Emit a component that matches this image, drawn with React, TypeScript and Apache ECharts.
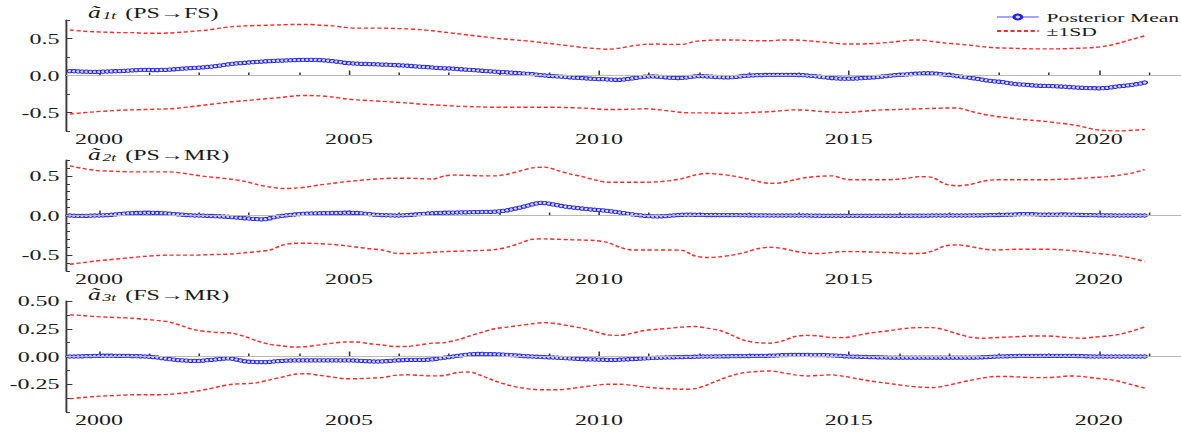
import React, { useEffect, useRef } from "react";
import * as echarts from "echarts";

// ---------- data ----------
// monthly posterior means, June 1999 .. December 2020
const MEAN_1 = [
  0.06, 0.058, 0.055, 0.053, 0.052, 0.05, 0.05,
  0.05, 0.052, 0.054, 0.056, 0.058, 0.06, 0.063, 0.066, 0.07, 0.073, 0.075, 0.075,
  0.075, 0.074, 0.074, 0.075, 0.077, 0.08, 0.084, 0.088, 0.092, 0.096, 0.1, 0.103,
  0.106, 0.11, 0.115, 0.12, 0.127, 0.134, 0.142, 0.15, 0.157, 0.163, 0.168, 0.172,
  0.176, 0.18, 0.184, 0.188, 0.192, 0.195, 0.198, 0.2, 0.202, 0.204, 0.206, 0.208,
  0.21, 0.211, 0.212, 0.212, 0.211, 0.209, 0.205, 0.2, 0.194, 0.188, 0.18, 0.172,
  0.166, 0.162, 0.16, 0.158, 0.156, 0.154, 0.152, 0.15, 0.148, 0.146, 0.143, 0.14,
  0.138, 0.135, 0.132, 0.128, 0.124, 0.12, 0.116, 0.112, 0.108, 0.104, 0.1, 0.097,
  0.095, 0.092, 0.088, 0.084, 0.08, 0.076, 0.072, 0.068, 0.064, 0.06, 0.056, 0.052,
  0.05, 0.046, 0.042, 0.038, 0.034, 0.03, 0.026, 0.022, 0.018, 0.012, 0.006, 0.0,
  -0.004, -0.008, -0.012, -0.016, -0.02, -0.024, -0.028, -0.032, -0.036, -0.04, -0.043, -0.046,
  -0.048, -0.05, -0.053, -0.056, -0.058, -0.058, -0.054, -0.047, -0.039, -0.031, -0.023, -0.016,
  -0.012, -0.012, -0.015, -0.019, -0.024, -0.029, -0.033, -0.035, -0.033, -0.027, -0.019, -0.012,
  -0.009, -0.01, -0.013, -0.016, -0.02, -0.023, -0.025, -0.025, -0.022, -0.018, -0.012, -0.006,
  -0.002, 0.002, 0.004, 0.006, 0.007, 0.008, 0.008, 0.008, 0.008, 0.008, 0.008, 0.007,
  0.006, 0.004, 0.0, -0.005, -0.01, -0.016, -0.022, -0.028, -0.034, -0.039, -0.042, -0.043,
  -0.043, -0.042, -0.04, -0.036, -0.032, -0.028, -0.024, -0.02, -0.014, -0.008, -0.002, 0.004,
  0.008, 0.012, 0.016, 0.02, 0.024, 0.027, 0.03, 0.03, 0.028, 0.024, 0.018, 0.012,
  0.007, 0.0, -0.008, -0.016, -0.022, -0.03, -0.038, -0.047, -0.056, -0.065, -0.073, -0.08,
  -0.084, -0.09, -0.1, -0.108, -0.115, -0.12, -0.124, -0.128, -0.132, -0.136, -0.139, -0.141,
  -0.142, -0.144, -0.146, -0.149, -0.152, -0.156, -0.16, -0.163, -0.166, -0.169, -0.171, -0.172,
  -0.173, -0.171, -0.167, -0.16, -0.152, -0.145, -0.139, -0.133, -0.126, -0.118, -0.108, -0.095,
];
const MEAN_2 = [
  0.0, -0.003, -0.005, -0.005, -0.004, -0.002, 0.0,
  0.0, 0.002, 0.005, 0.009, 0.014, 0.019, 0.023, 0.027, 0.03, 0.032, 0.034, 0.035,
  0.035, 0.034, 0.032, 0.03, 0.027, 0.023, 0.019, 0.014, 0.01, 0.006, 0.003, 0.0,
  0.0, -0.002, -0.004, -0.006, -0.008, -0.01, -0.013, -0.016, -0.02, -0.025, -0.03, -0.035,
  -0.038, -0.042, -0.046, -0.048, -0.046, -0.035, -0.022, -0.012, -0.005, 0.002, 0.008, 0.013,
  0.018, 0.021, 0.023, 0.025, 0.027, 0.028, 0.029, 0.03, 0.031, 0.032, 0.034, 0.035,
  0.035, 0.034, 0.031, 0.027, 0.022, 0.017, 0.012, 0.008, 0.005, 0.003, 0.001, 0.0,
  0.0, 0.002, 0.005, 0.009, 0.013, 0.017, 0.021, 0.025, 0.028, 0.031, 0.033, 0.035,
  0.036, 0.037, 0.038, 0.039, 0.04, 0.041, 0.042, 0.043, 0.044, 0.045, 0.046, 0.048,
  0.052, 0.058, 0.066, 0.076, 0.088, 0.1, 0.113, 0.126, 0.14, 0.152, 0.16, 0.157,
  0.15, 0.14, 0.13, 0.12, 0.112, 0.106, 0.1, 0.094, 0.088, 0.082, 0.076, 0.072,
  0.068, 0.064, 0.058, 0.052, 0.045, 0.038, 0.03, 0.022, 0.015, 0.008, 0.002, -0.004,
  -0.008, -0.011, -0.012, -0.01, -0.007, -0.003, 0.002, 0.006, 0.009, 0.01, 0.01, 0.009,
  0.008, 0.007, 0.006, 0.006, 0.006, 0.005, 0.005, 0.005, 0.004, 0.004, 0.003, 0.003,
  0.002, 0.002, 0.002, 0.001, 0.001, 0.0, 0.0, 0.0, 0.0, 0.0, 0.0, 0.0,
  0.0, 0.0, 0.0, -0.001, -0.002, -0.002, -0.003, -0.003, -0.003, -0.003, -0.003, -0.003,
  -0.003, -0.003, -0.003, -0.003, -0.003, -0.003, -0.003, -0.003, -0.003, -0.003, -0.003, -0.003,
  -0.003, -0.003, -0.002, -0.002, -0.002, -0.002, -0.001, -0.001, 0.0, 0.0, 0.0, 0.0,
  0.0, 0.0, 0.0, 0.0, 0.0, 0.001, 0.001, 0.002, 0.002, 0.003, 0.004, 0.005,
  0.006, 0.008, 0.01, 0.012, 0.014, 0.016, 0.017, 0.017, 0.016, 0.014, 0.012, 0.01,
  0.01, 0.011, 0.012, 0.013, 0.013, 0.012, 0.01, 0.008, 0.006, 0.005, 0.004, 0.003,
  0.002, 0.002, 0.001, 0.001, 0.0, 0.0, 0.0, 0.0, 0.0, 0.0, 0.0, 0.0,
];
const MEAN_3 = [
  0.0, 0.0, 0.001, 0.002, 0.003, 0.004, 0.005,
  0.006, 0.007, 0.007, 0.007, 0.006, 0.006, 0.005, 0.005, 0.004, 0.003, 0.002, 0.0,
  -0.002, -0.005, -0.009, -0.014, -0.019, -0.024, -0.028, -0.032, -0.035, -0.037, -0.039, -0.04,
  -0.04, -0.037, -0.033, -0.03, -0.027, -0.023, -0.019, -0.017, -0.02, -0.028, -0.036, -0.043,
  -0.047, -0.049, -0.05, -0.05, -0.05, -0.048, -0.045, -0.042, -0.039, -0.037, -0.036, -0.035,
  -0.035, -0.035, -0.035, -0.035, -0.035, -0.035, -0.035, -0.035, -0.035, -0.035, -0.035, -0.035,
  -0.035, -0.036, -0.037, -0.039, -0.041, -0.043, -0.045, -0.045, -0.044, -0.042, -0.039, -0.036,
  -0.034, -0.032, -0.03, -0.03, -0.03, -0.03, -0.03, -0.029, -0.026, -0.021, -0.015, -0.01,
  -0.005, 0.0, 0.005, 0.01, 0.015, 0.019, 0.022, 0.023, 0.023, 0.022, 0.021, 0.02,
  0.019, 0.017, 0.015, 0.013, 0.01, 0.007, 0.004, 0.002, 0.0, -0.002, -0.004, -0.006,
  -0.007, -0.009, -0.011, -0.013, -0.015, -0.017, -0.019, -0.021, -0.023, -0.025, -0.026, -0.027,
  -0.028, -0.029, -0.03, -0.03, -0.03, -0.029, -0.027, -0.025, -0.023, -0.021, -0.019, -0.017,
  -0.015, -0.013, -0.011, -0.01, -0.009, -0.008, -0.007, -0.006, -0.005, -0.004, -0.003, -0.002,
  -0.001, 0.0, 0.0, 0.0, 0.001, 0.001, 0.002, 0.002, 0.003, 0.003, 0.004, 0.004,
  0.004, 0.005, 0.005, 0.005, 0.006, 0.007, 0.008, 0.01, 0.012, 0.013, 0.014, 0.014,
  0.014, 0.014, 0.014, 0.013, 0.013, 0.012, 0.012, 0.011, 0.01, 0.008, 0.005, 0.002,
  0.0, -0.001, -0.002, -0.003, -0.004, -0.005, -0.006, -0.007, -0.008, -0.009, -0.01, -0.01,
  -0.01, -0.01, -0.01, -0.01, -0.01, -0.01, -0.01, -0.01, -0.01, -0.01, -0.01, -0.01,
  -0.01, -0.01, -0.01, -0.01, -0.01, -0.01, -0.01, -0.009, -0.007, -0.005, -0.003, -0.001,
  0.0, 0.001, 0.002, 0.003, 0.004, 0.005, 0.005, 0.005, 0.005, 0.005, 0.005, 0.006,
  0.006, 0.006, 0.006, 0.006, 0.006, 0.006, 0.005, 0.004, 0.003, 0.002, 0.001, 0.0,
  0.0, 0.0, 0.0, 0.0, 0.0, 0.0, 0.0, 0.0, 0.0, 0.0, 0.0, 0.0,
];

// quarterly ±1SD bands, mid-1999 .. end-2020
const UPPER_1 = [
  0.615, 0.6, 0.59,
  0.585, 0.58, 0.58, 0.57, 0.57, 0.575, 0.585, 0.6, 0.615, 0.64, 0.66, 0.67,
  0.675, 0.68, 0.685, 0.69, 0.69, 0.68, 0.67, 0.65, 0.64, 0.64, 0.64, 0.635,
  0.63, 0.62, 0.605, 0.585, 0.565, 0.545, 0.525, 0.505, 0.49, 0.475, 0.46, 0.44,
  0.42, 0.4, 0.38, 0.365, 0.355, 0.37, 0.4, 0.42, 0.425, 0.42, 0.42, 0.46,
  0.475, 0.48, 0.48, 0.475, 0.47, 0.47, 0.48, 0.48, 0.47, 0.455, 0.44, 0.425,
  0.425, 0.43, 0.44, 0.455, 0.475, 0.48, 0.46, 0.44, 0.425, 0.41, 0.39, 0.375,
  0.37, 0.365, 0.36, 0.36, 0.36, 0.365, 0.37, 0.38, 0.4, 0.44, 0.49, 0.535,
];
const LOWER_1 = [
  -0.52, -0.505, -0.49,
  -0.48, -0.47, -0.465, -0.46, -0.455, -0.45, -0.435, -0.415, -0.395, -0.375, -0.355, -0.34,
  -0.325, -0.31, -0.295, -0.275, -0.27, -0.275, -0.29, -0.315, -0.33, -0.34, -0.35, -0.36,
  -0.37, -0.385, -0.395, -0.405, -0.415, -0.42, -0.425, -0.43, -0.43, -0.43, -0.43, -0.43,
  -0.43, -0.435, -0.44, -0.45, -0.46, -0.46, -0.455, -0.45, -0.46, -0.48, -0.5, -0.505,
  -0.505, -0.51, -0.51, -0.505, -0.495, -0.49, -0.475, -0.465, -0.47, -0.485, -0.495, -0.5,
  -0.49, -0.475, -0.465, -0.46, -0.455, -0.45, -0.445, -0.44, -0.44, -0.48, -0.52, -0.55,
  -0.57, -0.59, -0.605, -0.62, -0.64, -0.66, -0.69, -0.73, -0.745, -0.75, -0.74, -0.73,
];
const UPPER_2 = [
  0.625, 0.595, 0.57,
  0.56, 0.555, 0.55, 0.55, 0.55, 0.55, 0.535, 0.51, 0.49, 0.475, 0.455, 0.43,
  0.39, 0.36, 0.34, 0.345, 0.36, 0.385, 0.405, 0.425, 0.44, 0.455, 0.465, 0.47,
  0.47, 0.465, 0.46, 0.5, 0.51, 0.505, 0.5, 0.5, 0.52, 0.56, 0.6, 0.61,
  0.57, 0.525, 0.49, 0.45, 0.42, 0.42, 0.42, 0.42, 0.425, 0.44, 0.465, 0.51,
  0.53, 0.52, 0.5, 0.47, 0.43, 0.405, 0.415, 0.45, 0.48, 0.495, 0.5, 0.46,
  0.45, 0.45, 0.45, 0.455, 0.47, 0.49, 0.48, 0.4, 0.375, 0.39, 0.43, 0.45,
  0.45, 0.45, 0.45, 0.45, 0.455, 0.46, 0.47, 0.48, 0.49, 0.51, 0.535, 0.58,
];
const LOWER_2 = [
  -0.615, -0.595, -0.575,
  -0.56, -0.545, -0.53, -0.515, -0.505, -0.5, -0.5, -0.5, -0.495, -0.49, -0.485, -0.47,
  -0.455, -0.435, -0.375, -0.35, -0.35, -0.355, -0.365, -0.38, -0.4, -0.42, -0.435, -0.475,
  -0.48, -0.475, -0.465, -0.455, -0.45, -0.445, -0.44, -0.43, -0.4, -0.35, -0.3, -0.295,
  -0.3, -0.305, -0.31, -0.315, -0.34, -0.4, -0.435, -0.435, -0.435, -0.435, -0.44, -0.51,
  -0.53, -0.52, -0.5, -0.465, -0.42, -0.4, -0.415, -0.45, -0.475, -0.48, -0.465, -0.455,
  -0.455, -0.46, -0.465, -0.47, -0.48, -0.48, -0.45, -0.385, -0.37, -0.39, -0.42, -0.435,
  -0.43, -0.425, -0.425, -0.425, -0.43, -0.44, -0.455, -0.475, -0.49, -0.51, -0.54, -0.58,
];
const UPPER_3 = [
  0.375, 0.37, 0.36,
  0.355, 0.35, 0.345, 0.335, 0.325, 0.31, 0.275, 0.24, 0.225, 0.215, 0.21, 0.18,
  0.14, 0.11, 0.095, 0.085, 0.09, 0.105, 0.12, 0.13, 0.13, 0.115, 0.104, 0.09,
  0.09, 0.105, 0.12, 0.125, 0.15, 0.185, 0.22, 0.25, 0.265, 0.28, 0.295, 0.305,
  0.295, 0.275, 0.255, 0.225, 0.195, 0.19, 0.21, 0.235, 0.245, 0.255, 0.265, 0.27,
  0.255, 0.235, 0.19, 0.145, 0.125, 0.12, 0.14, 0.18, 0.19, 0.185, 0.17, 0.17,
  0.19, 0.21, 0.225, 0.24, 0.255, 0.26, 0.26, 0.24, 0.205, 0.175, 0.165, 0.17,
  0.175, 0.18, 0.185, 0.185, 0.18, 0.17, 0.165, 0.175, 0.185, 0.2, 0.23, 0.265,
];
const LOWER_3 = [
  -0.38, -0.37, -0.36,
  -0.355, -0.35, -0.345, -0.345, -0.345, -0.34, -0.33, -0.315, -0.295, -0.27, -0.25, -0.245,
  -0.235, -0.21, -0.185, -0.16, -0.155, -0.17, -0.185, -0.2, -0.2, -0.195, -0.19, -0.17,
  -0.165, -0.17, -0.175, -0.17, -0.145, -0.14, -0.175, -0.22, -0.255, -0.28, -0.295, -0.3,
  -0.3, -0.29, -0.275, -0.26, -0.25, -0.25, -0.26, -0.275, -0.285, -0.29, -0.295, -0.29,
  -0.255, -0.21, -0.17, -0.145, -0.135, -0.13, -0.145, -0.165, -0.175, -0.17, -0.165, -0.18,
  -0.2, -0.22, -0.235, -0.25, -0.265, -0.275, -0.28, -0.265, -0.24, -0.215, -0.195, -0.18,
  -0.18, -0.185, -0.19, -0.19, -0.185, -0.175, -0.18, -0.195, -0.205, -0.225, -0.255, -0.285,
];

const MAJOR_YEARS = [2000, 2005, 2010, 2015, 2020];
const MINOR_YEARS = [2001, 2002, 2003, 2004, 2006, 2007, 2008, 2009, 2011, 2012, 2013, 2014, 2016, 2017, 2018, 2019, 2021];
const TITLES = [
  { sub: "1t", text: " (PS\u2192FS)" },
  { sub: "2t", text: " (PS\u2192MR)" },
  { sub: "3t", text: " (FS\u2192MR)" },
];
const Y_LABELS = [
  [-0.5, 0, 0.5],
  [-0.5, 0, 0.5],
  [-0.25, 0, 0.25, 0.5],
];
const Y_MINOR = [
  [-0.75, -0.25, 0.25, 0.75],
  [-0.7, -0.6, -0.4, -0.3, -0.2, -0.1, 0.1, 0.2, 0.3, 0.4, 0.6, 0.7],
  [-0.5, -0.375, -0.125, 0.125, 0.375],
];
const Y_RANGE = [
  [-0.75, 0.75],
  [-0.7, 0.7],
  [-0.5, 0.5],
];
const Y_DECIMALS = [1, 1, 2];
const MEANS = [MEAN_1, MEAN_2, MEAN_3];
const UPPERS = [UPPER_1, UPPER_2, UPPER_3];
const LOWERS = [LOWER_1, LOWER_2, LOWER_3];

// ---------- layout ----------
const S = 1.6; // horizontal stretch of the original figure
const W = 1181 / S;
const H = 438;
const GRID_TOPS = [20, 160, 301];
const TITLE_CENTERS = [15, 157, 297];
const GRID_H = 111;
const GRID_LEFT = 66 / S;
const X_MIN = 1999.34;
const X_MAX = 2021.64;
const FONT = "Liberation Serif";
const AX = "#3a3a3a";
const TXT = "#1a1a1a";

const monthT = (i: number) => 1999 + (5 + i) / 12;
const quarterT = (k: number) => 1999 + 5 / 12 + 0.25 * k;

export default function App() {
  const ref = useRef<HTMLDivElement>(null);
  useEffect(() => {
    if (!ref.current) return;
    const chart = echarts.init(ref.current, null, { renderer: "svg" });

    const grid: any[] = [];
    const xAxis: any[] = [];
    const yAxis: any[] = [];
    const series: any[] = [];
    const title: any[] = [];

    for (let g = 0; g < 3; g++) {
      grid.push({ left: GRID_LEFT, right: 0, top: GRID_TOPS[g], height: GRID_H });
      xAxis.push({
        type: "value", gridIndex: g, min: X_MIN, max: X_MAX, position: "bottom",
        axisLine: { show: true, lineStyle: { color: AX, width: 1.2 } },
        axisTick: { show: true, inside: true, length: 5, customValues: MAJOR_YEARS, lineStyle: { color: AX } },
        axisLabel: {
          customValues: MAJOR_YEARS, formatter: (v: number) => String(Math.round(v)),
          fontFamily: FONT, fontSize: 15, lineHeight: 12, color: TXT, margin: 2,
        },
        splitLine: { show: false },
      });
      xAxis.push({
        type: "value", gridIndex: g, min: X_MIN, max: X_MAX, position: "bottom", offset: 0,
        axisLine: { show: false },
        axisTick: { show: true, inside: true, length: 3, customValues: MINOR_YEARS, lineStyle: { color: AX } },
        axisLabel: { show: false },
        splitLine: { show: false },
      });
      const dec = Y_DECIMALS[g];
      yAxis.push({
        type: "value", gridIndex: g, min: Y_RANGE[g][0], max: Y_RANGE[g][1], position: "left",
        axisLine: { show: true, lineStyle: { color: AX, width: 1.2 } },
        axisTick: { show: true, inside: true, length: 4, customValues: Y_LABELS[g], lineStyle: { color: AX } },
        axisLabel: {
          customValues: Y_LABELS[g], formatter: (v: number) => v.toFixed(dec),
          fontFamily: FONT, fontSize: 15, lineHeight: 12, color: TXT, margin: 4,
        },
        splitLine: { show: false },
      });
      yAxis.push({
        type: "value", gridIndex: g, min: Y_RANGE[g][0], max: Y_RANGE[g][1], position: "left", offset: 0,
        axisLine: { show: false },
        axisTick: { show: true, inside: true, length: 2.5, customValues: Y_MINOR[g], lineStyle: { color: AX } },
        axisLabel: { show: false },
        splitLine: { show: false },
      });

      const redStyle = { color: "#ff2a2a", width: 1.4, type: [2.6, 1.6] };
      series.push({
        type: "line", name: "\u00b11SD", xAxisIndex: 2 * g, yAxisIndex: 2 * g,
        data: UPPERS[g].map((v, k) => [quarterT(k), v]),
        symbol: "none", smooth: 0.3, lineStyle: redStyle, itemStyle: { color: "#ff2a2a" },
        markLine: {
          silent: true, symbol: "none", label: { show: false },
          lineStyle: { color: "#b8b8b8", width: 1, type: "solid" },
          data: [{ yAxis: 0 }],
        },
      });
      series.push({
        type: "line", name: "\u00b11SD", xAxisIndex: 2 * g, yAxisIndex: 2 * g,
        data: LOWERS[g].map((v, k) => [quarterT(k), v]),
        symbol: "none", smooth: 0.3, lineStyle: redStyle, itemStyle: { color: "#ff2a2a" },
      });
      series.push({
        type: "line", name: "Posterior Mean", xAxisIndex: 2 * g, yAxisIndex: 2 * g,
        data: MEANS[g].map((v, i) => [monthT(i), v]),
        symbol: "circle", symbolSize: 3.4, showSymbol: true, showAllSymbol: true,
        lineStyle: { color: "rgba(90,90,255,0.55)", width: 2.6 },
        itemStyle: { color: "#d6d6ff", borderColor: "#2222ee", borderWidth: 0.9 },
      });

      title.push({
        left: 55, top: TITLE_CENTERS[g] - 10, padding: 0,
        text: `{a|\u00e3}{s|${TITLES[g].sub}}{n|${TITLES[g].text}}`,
        textStyle: {
          fontWeight: "normal",
          rich: {
            a: { fontFamily: FONT, fontStyle: "italic", fontWeight: "normal", fontSize: 16, lineHeight: 16, color: TXT, verticalAlign: "middle" },
            s: { fontFamily: FONT, fontStyle: "italic", fontWeight: "normal", fontSize: 11, lineHeight: 8, color: TXT, verticalAlign: "bottom", padding: [12, 2, 0, 1] },
            n: { fontFamily: FONT, fontWeight: "normal", fontSize: 15, lineHeight: 16, color: TXT, verticalAlign: "middle" },
          },
        },
      });
    }

    chart.setOption({
      animation: false,
      backgroundColor: "#ffffff",
      title,
      legend: {
        data: [
          { name: "Posterior Mean" },
          { name: "\u00b11SD", itemStyle: { opacity: 0 } },
        ],
        orient: "vertical", right: 1, top: 10, padding: 0,
        itemWidth: 26, itemHeight: 6, itemGap: 0,
        textStyle: { fontFamily: FONT, fontSize: 13.5, color: TXT, lineHeight: 12 },
      },
      grid, xAxis, yAxis, series,
    });
    return () => chart.dispose();
  }, []);

  return (
    <div
      ref={ref}
      style={{
        position: "absolute", left: 0, top: 0, width: W + "px", height: H + "px",
        transform: `scaleX(${S})`, transformOrigin: "0 0",
      }}
    />
  );
}
